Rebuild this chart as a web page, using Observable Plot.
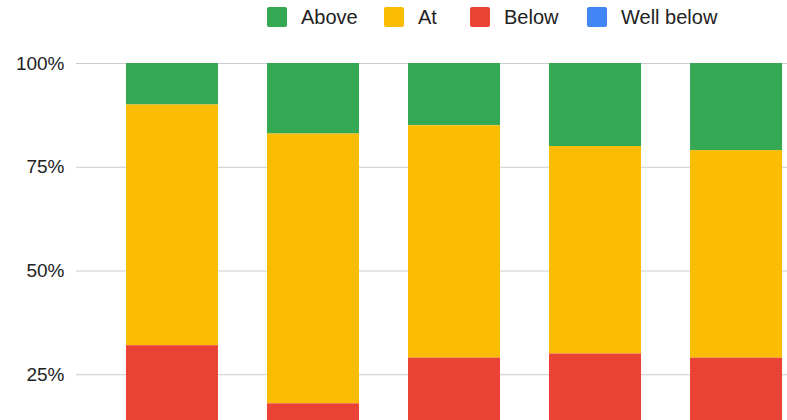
<!DOCTYPE html>
<html>
<head>
<meta charset="utf-8">
<script src="https://cdn.jsdelivr.net/npm/d3@7"></script>
<script src="https://cdn.jsdelivr.net/npm/@observablehq/plot@0.6"></script>
<style>
  html, body { margin: 0; padding: 0; background: #fff; overflow: hidden; }
  #legend {
    position: relative; height: 34px;
    font-family: "Liberation Sans", Arial, sans-serif; font-size: 20px; color: #222;
  }
  #legend .item { position: absolute; top: 7px; display: flex; align-items: center; gap: 14px; line-height: 20px; white-space: nowrap; }
  #legend .sw { width: 20px; height: 20px; border-radius: 2px; }
</style>
</head>
<body>
<div id="legend"></div>
<div id="chart"></div>
<script>
// Share of results per group, in percent, stacked by level
const categories = ["Group 1", "Group 2", "Group 3", "Group 4", "Group 5"];
const levels = ["Above", "At", "Below", "Well below"];
const colors = ["#34a853", "#fbbc04", "#ea4335", "#4285f4"];
const above = [10, 17, 15, 20, 21];
const at = [58, 65, 56, 50, 50];
const below = [27, 15, 25, 25, 25];
const wellBelow = [5, 3, 4, 5, 4];
const yTicks = [25, 50, 75, 100];

const series = [above, at, below, wellBelow];
const rows = [];
categories.forEach((c, i) => {
  levels.forEach((lv, j) => rows.push({ category: c, level: lv, value: series[j][i] }));
});

// legend row: one swatch + label per level
const legendLeft = [267, 384, 470, 587];
const legend = d3.select("#legend");
levels.forEach((lv, j) => {
  const it = legend.append("div").attr("class", "item").style("left", `${legendLeft[j]}px`);
  it.append("div").attr("class", "sw").style("background", colors[j]);
  it.append("span").text(lv);
});

const chart = Plot.plot({
  width: 787,
  height: 474,
  marginTop: 29,
  marginBottom: 30,
  marginLeft: 76,
  marginRight: 0,
  style: { fontFamily: "'Liberation Sans', Arial, sans-serif", fontSize: "19px", color: "#222", background: "#fff" },
  x: { domain: categories, range: [76.6, 831.4], paddingInner: 0.3475, paddingOuter: 0.35, round: false, axis: null },
  y: { domain: [0, 100], ticks: yTicks, tickFormat: d => `${d}%`, label: null },
  color: { domain: levels, range: colors },
  marks: [
    Plot.gridY(yTicks, { stroke: "#cccccc", strokeOpacity: 1, strokeWidth: 1 }),
    Plot.axisY(yTicks, { tickSize: 0, tickPadding: 12, tickFormat: d => `${d}%`, fontSize: 19, fill: "#222", label: null }),
    Plot.barY(rows, Plot.stackY({
      order: ["Well below", "Below", "At", "Above"],
      x: "category", y: "value", fill: "level"
    }))
  ]
});
document.getElementById("chart").appendChild(chart);
</script>
</body>
</html>
